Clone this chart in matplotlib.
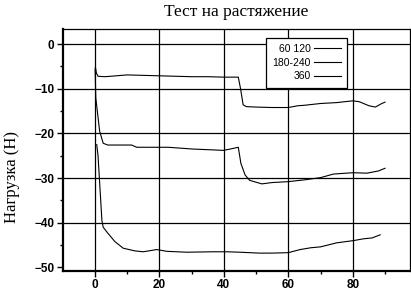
import numpy as np
import matplotlib
matplotlib.use('Agg')
import matplotlib.pyplot as plt
from matplotlib.ticker import MultipleLocator

# readings (time vs load)
x_60 = [0.2, 0.5, 1.0, 3, 5, 10, 15, 20, 25, 30, 35, 40, 44.5, 45.2, 46.0, 47.0, 50, 55, 60,
        63, 65, 70, 75, 80, 82, 85, 87, 89, 90]
y_60 = [-5.2, -6.5, -7.2, -7.3, -7.2, -6.9, -7.0, -7.1, -7.2, -7.3, -7.3, -7.4, -7.4, -10.0,
        -13.6, -14.0, -14.1, -14.2, -14.2, -13.8, -13.7, -13.3, -13.1, -12.7, -12.9, -13.8,
        -14.1, -13.3, -13.0]

x_180 = [0.1, 0.3, 1.5, 2.6, 4, 11.4, 13, 22.7, 30.4, 37, 39.8, 42, 44.5, 45.3, 46.6, 48,
         51.8, 55, 60, 65, 70, 74, 80, 84.4, 88, 90]
y_180 = [-5.5, -12.0, -19.5, -22.2, -22.6, -22.6, -23.1, -23.1, -23.5, -23.7, -23.8, -23.5,
         -23.1, -26.7, -29.3, -30.5, -31.3, -31.0, -30.8, -30.4, -29.9, -29.1, -28.8, -28.9,
         -28.4, -27.8]

x_360 = [0.6, 1.0, 2.2, 2.6, 4, 6.2, 8.8, 12.4, 15, 17.6, 19.2, 22.3, 28.5, 36.7, 40.9, 45,
         51, 55, 60, 63.7, 67, 70, 75, 80.2, 83.3, 86, 88.5]
y_360 = [-22.5, -25.0, -39.5, -41.0, -42.3, -44.2, -45.7, -46.3, -46.5, -46.2, -46.0, -46.4,
         -46.6, -46.5, -46.5, -46.6, -46.8, -46.8, -46.7, -46.0, -45.6, -45.4, -44.5, -44.0,
         -43.6, -43.4, -42.7]

labels = ['60 120', '180-240', '360']

fig = plt.figure(figsize=(4.11, 2.92), dpi=100)
ax = fig.add_axes([0.153, 0.072, 0.845, 0.829])

ax.plot(x_60, y_60, color='black', lw=0.8, label=labels[0])
ax.plot(x_180, y_180, color='black', lw=0.8, label=labels[1])
ax.plot(x_360, y_360, color='black', lw=0.8, label=labels[2])

ax.set_xlim(-9.9, 97.8)
ax.set_ylim(-50.8, 3.4)
ax.xaxis.set_major_locator(MultipleLocator(20))
ax.xaxis.set_minor_locator(MultipleLocator(10))
ax.yaxis.set_major_locator(MultipleLocator(10))
ax.yaxis.set_minor_locator(MultipleLocator(5))

ax.grid(True, which='major', color='black', lw=0.9)
ax.get_ygridlines()[1].set_visible(False)  # no line at -10 in the original

ax.tick_params(which='major', direction='out', length=4, width=1, pad=2)
ax.tick_params(which='minor', direction='out', length=2.5, width=1)
ax.tick_params(top=False, right=False)
for lab in ax.get_xticklabels() + ax.get_yticklabels():
    lab.set_fontfamily('Liberation Sans')
    lab.set_fontweight('bold')
    lab.set_fontsize(8.5)

for side in ['left', 'bottom']:
    ax.spines[side].set_linewidth(1.6)
for side in ['top', 'right']:
    ax.spines[side].set_linewidth(0.9)

ax.set_title('Тест на растяжение', family='Liberation Serif', fontsize=12.5, pad=9)
ax.set_ylabel('Нагрузка (Н)', family='Liberation Serif', fontsize=12)
ax.yaxis.set_label_coords(-0.124, 0.39)

leg = ax.legend(loc='upper left', bbox_to_anchor=(0.585, 0.963), borderaxespad=0,
                markerfirst=False, fancybox=False, framealpha=1, edgecolor='black',
                handlelength=2.6, handletextpad=0.3, borderpad=0.6, labelspacing=0.35,
                prop={'family': 'Liberation Sans', 'size': 7.5})
leg.get_frame().set_linewidth(0.9)

fig.savefig('out.png', dpi=100)
